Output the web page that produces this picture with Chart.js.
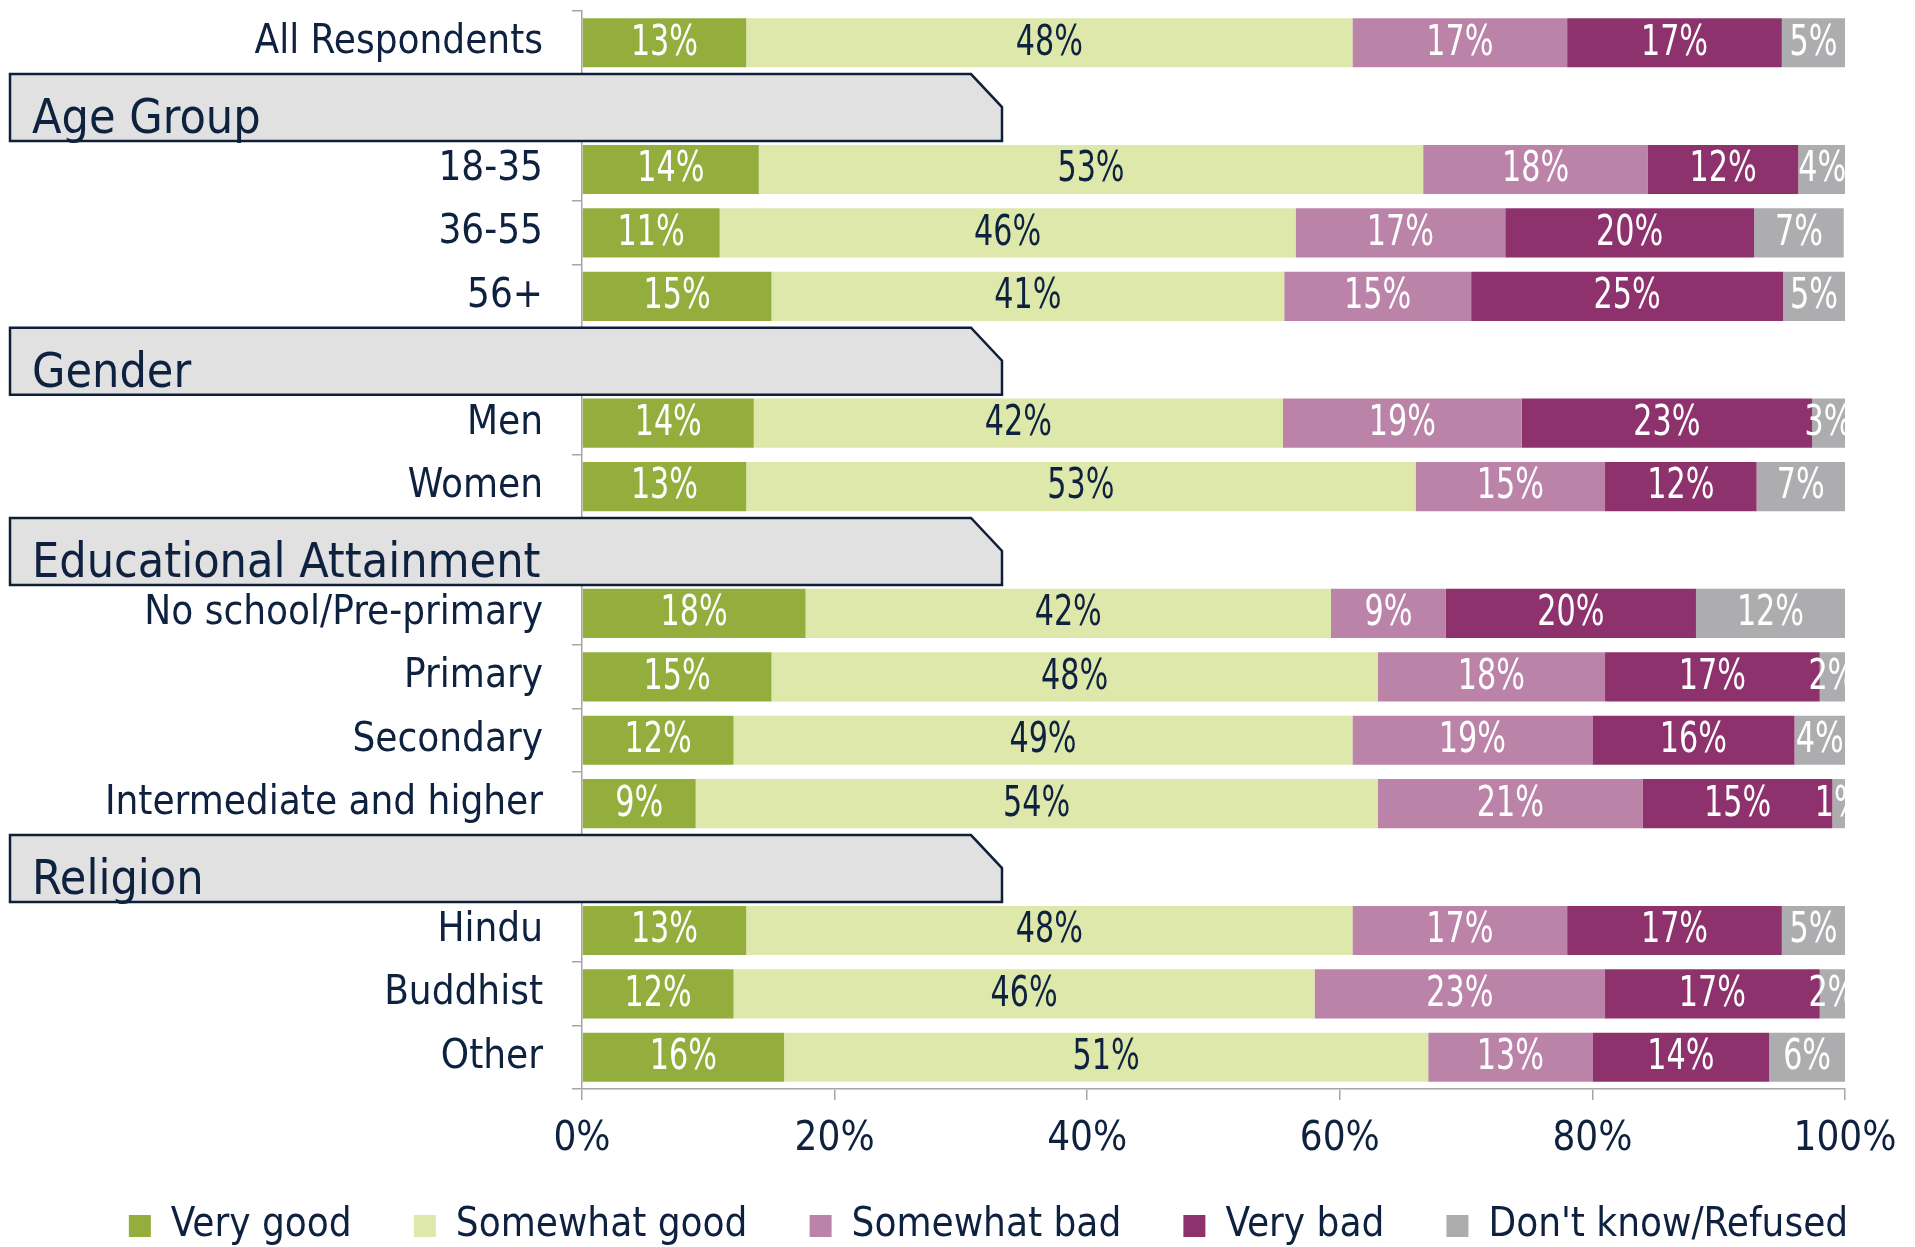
<!DOCTYPE html>
<html>
<head>
<meta charset="utf-8">
<script src="https://cdn.jsdelivr.net/npm/chart.js@4.4.1/dist/chart.umd.min.js"></script>
<style>
  html, body { margin: 0; padding: 0; background: #fff; }
  canvas { display: block; }
</style>
</head>
<body>
<canvas id="myChart" width="1915" height="1247"></canvas>
<script>
const categories = ['All Respondents', 'Age Group', '18-35', '36-55', '56+', 'Gender', 'Men', 'Women',
  'Educational Attainment', 'No school/Pre-primary', 'Primary', 'Secondary', 'Intermediate and higher',
  'Religion', 'Hindu', 'Buddhist', 'Other'];
const headerRows = [1, 5, 8, 13];

const seriesNames = ['Very good', 'Somewhat good', 'Somewhat bad', 'Very bad', "Don't know/Refused"];
const veryGood     = [13, null, 14.0, 10.9, 15.0, null, 13.6, 13, null, 17.7, 15, 12, 9, null, 13, 12, 16];
const somewhatGood = [48, null, 52.6, 45.6, 40.6, null, 41.9, 53, null, 41.6, 48, 49, 54, null, 48, 46, 51];
const somewhatBad  = [17, null, 17.8, 16.6, 14.8, null, 18.9, 15, null, 9.1, 18, 19, 21, null, 17, 23, 13];
const veryBad      = [17, null, 11.9, 19.7, 24.7, null, 23.0, 12, null, 19.8, 17, 16, 15, null, 17, 17, 14];
const dontKnow     = [5, null, 3.8, 7.1, 4.9, null, 2.6, 7, null, 11.8, 2, 4, 1, null, 5, 2, 6];
const xTicks = [0, 20, 40, 60, 80, 100];

const colors = ['#93ae3d', '#dde8aa', '#bc83a9', '#8e326e', '#adadaf'];
const labelColors = ['#ffffff', '#0e2240', '#ffffff', '#ffffff', '#ffffff'];
const navy = '#0e2240';
const textFont = '"DejaVu Sans Condensed", "DejaVu Sans", sans-serif';

Chart.defaults.font.family = textFont;
Chart.defaults.color = navy;

// percentage labels inside the segments (squeezed to look like a narrow face)
const segmentLabels = {
  id: 'segmentLabels',
  afterDatasetsDraw(chart) {
    const ctx = chart.ctx;
    const area = chart.chartArea;
    ctx.save();
    ctx.beginPath();
    ctx.rect(area.left, area.top, area.right - area.left, area.bottom - area.top);
    ctx.clip();
    ctx.font = '42px ' + textFont;
    ctx.textAlign = 'center';
    ctx.textBaseline = 'middle';
    chart.data.datasets.forEach((ds, i) => {
      const meta = chart.getDatasetMeta(i);
      meta.data.forEach((bar, j) => {
        const v = ds.data[j];
        if (v == null) return;
        const p = bar.getProps(['x', 'y', 'base'], true);
        ctx.save();
        ctx.translate((p.x + p.base) / 2, p.y + 1);
        ctx.scale(0.8, 1);
        ctx.fillStyle = labelColors[i];
        ctx.fillText(Math.round(v) + '%', 0, 0);
        ctx.restore();
      });
    });
    ctx.restore();
  }
};

// grey group header tabs
const groupHeaders = {
  id: 'groupHeaders',
  afterDraw(chart) {
    const ctx = chart.ctx;
    const y = chart.scales.y;
    ctx.save();
    headerRows.forEach(idx => {
      const c = y.getPixelForValue(idx);
      const top = c - 32, bottom = c + 35;
      ctx.beginPath();
      ctx.moveTo(10, top);
      ctx.lineTo(971, top);
      ctx.lineTo(1002, top + 33);
      ctx.lineTo(1002, bottom);
      ctx.lineTo(10, bottom);
      ctx.closePath();
      ctx.fillStyle = '#e1e1e1';
      ctx.fill();
      ctx.lineWidth = 2.5;
      ctx.strokeStyle = '#0f1f38';
      ctx.stroke();
      ctx.font = '48px ' + textFont;
      ctx.fillStyle = navy;
      ctx.textAlign = 'left';
      ctx.textBaseline = 'alphabetic';
      ctx.fillText(categories[idx], 32, c + 27);
    });
    ctx.restore();
  }
};

function noPadding(scale) {
  scale.paddingTop = 0;
  scale.paddingBottom = 0;
  scale.paddingLeft = 0;
  scale.paddingRight = 0;
}

const ctx = document.getElementById('myChart');

new Chart(ctx, {
  type: 'bar',
  data: {
    labels: categories,
    datasets: [veryGood, somewhatGood, somewhatBad, veryBad, dontKnow].map((d, i) => ({
      label: seriesNames[i],
      data: d,
      backgroundColor: colors[i],
      borderWidth: 0,
      barPercentage: 0.775,
      categoryPercentage: 1
    }))
  },
  options: {
    indexAxis: 'y',
    responsive: false,
    animation: false,
    devicePixelRatio: 1,
    layout: { padding: { left: 62, right: 0, top: 11, bottom: 0 } },
    scales: {
      x: {
        stacked: true,
        min: 0,
        max: 100,
        afterBuildTicks(scale) { scale.ticks = xTicks.map(v => ({ value: v })); },
        afterFit(scale) { scale.height = 112; noPadding(scale); },
        ticks: {
          callback: v => v + '%',
          font: { size: 40 },
          color: navy,
          padding: 16
        },
        grid: { drawOnChartArea: false, tickLength: 11, color: '#a6a6a6', lineWidth: 1.5 },
        border: { color: '#a6a6a6', width: 1.5 }
      },
      y: {
        stacked: true,
        afterFit(scale) { scale.width = 582 - 62; noPadding(scale); },
        ticks: {
          autoSkip: false,
          font: { size: 40 },
          color: navy,
          padding: 29,
          callback(value, index) { return headerRows.includes(index) ? '' : categories[index]; }
        },
        grid: { offset: true, drawOnChartArea: false, tickLength: 10, color: '#a6a6a6', lineWidth: 1.5 },
        border: { color: '#a6a6a6', width: 1.5 }
      },
      // empty strip that keeps the plot clear of the right edge
      yRight: {
        type: 'category',
        position: 'right',
        afterFit(scale) { scale.width = 70; noPadding(scale); },
        ticks: { display: false },
        grid: { display: false },
        border: { display: false }
      }
    },
    plugins: {
      tooltip: { enabled: false },
      legend: {
        position: 'bottom',
        maxHeight: 46,
        labels: {
          boxWidth: 22,
          boxHeight: 22,
          padding: 5,
          color: navy,
          font: { size: 40 },
          generateLabels(chart) {
            const items = Chart.defaults.plugins.legend.labels.generateLabels(chart);
            items.forEach((it, i) => { if (i < items.length - 1) it.text += '     '; });
            return items;
          }
        }
      }
    }
  },
  plugins: [segmentLabels, groupHeaders]
});
</script>
</body>
</html>
